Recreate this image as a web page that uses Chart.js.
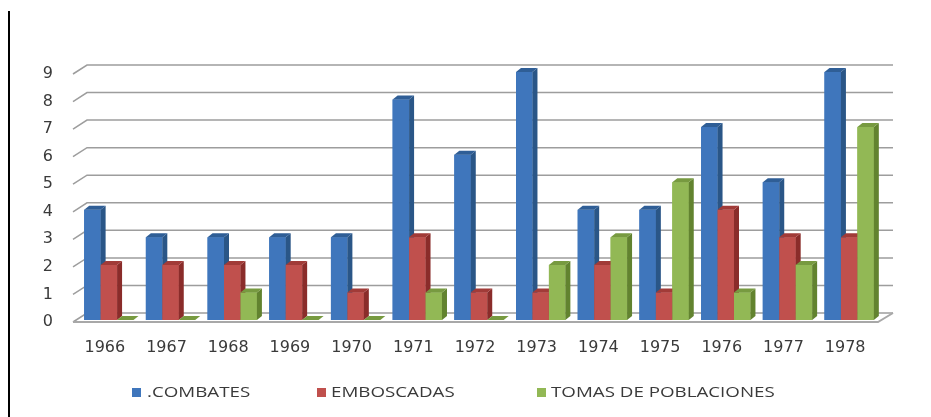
<!DOCTYPE html>
<html><head><meta charset="utf-8">
<script src="https://cdn.jsdelivr.net/npm/chart.js@4.4.0/dist/chart.umd.min.js"></script>
<style>html,body{margin:0;padding:0;background:#fff;overflow:hidden}canvas{display:block}</style>
</head><body>
<canvas id="c" width="931" height="417"></canvas>
<script>
// ---- data ----
const categories = ['1966','1967','1968','1969','1970','1971','1972','1973','1974','1975','1976','1977','1978'];
const combates   = [4, 3, 3, 3, 3, 8, 6, 9, 4, 4, 7, 5, 9];
const emboscadas = [2, 2, 2, 2, 1, 3, 1, 1, 2, 1, 4, 3, 3];
const tomas      = [0, 0, 1, 0, 0, 1, 0, 2, 3, 5, 1, 2, 7];
const seriesNames = ['.COMBATES', 'EMBOSCADAS', 'TOMAS DE POBLACIONES'];
const yMin = 0, yMax = 9, yStep = 1;

// ---- styles ----
const FRONT = ['#3F76BC', '#C0504D', '#92B855'];
const SIDE  = ['#2A5687', '#8A2C2A', '#62832F'];
const TOP   = ['#2F5E96', '#A13B38', '#779A40'];
const DX = 5, DY = -4;
const GRID = '#9d9d9d';
const TEXT = '#3a3a3a';

const wallPlugin = {
  id: 'wall',
  beforeDatasetsDraw(chart) {
    const ctx = chart.ctx, ys = chart.scales.y, a = chart.chartArea;
    ctx.save();
    ctx.strokeStyle = GRID;
    ctx.lineWidth = 1.5;
    for (let v = yMin; v <= yMax; v += yStep) {
      const y = ys.getPixelForValue(v);
      ctx.beginPath();
      ctx.moveTo(a.left - 5, y + 2);
      ctx.lineTo(a.left + 9, y - 7);
      ctx.lineTo(a.right + 13, y - 7);
      ctx.stroke();
    }
    const y0 = ys.getPixelForValue(0);
    ctx.lineWidth = 2;
    ctx.strokeStyle = '#a8a8a8';
    ctx.beginPath();
    ctx.moveTo(a.left - 5, y0 + 2);
    ctx.lineTo(a.right - 2, y0 + 2);
    ctx.lineTo(a.right + 13, y0 - 7);
    ctx.stroke();
    ctx.restore();
  }
};

// repaint bars as 3D prisms, series in order so later series cover earlier side faces
const bars3dPlugin = {
  id: 'bars3d',
  afterDatasetsDraw(chart) {
    const ctx = chart.ctx;
    ctx.save();
    chart.data.datasets.forEach((ds, i) => {
      const meta = chart.getDatasetMeta(i);
      if (meta.hidden) return;
      meta.data.forEach(el => {
        const p = el.getProps(['x', 'y', 'base', 'width'], true);
        const x0 = p.x - p.width / 2, x1 = p.x + p.width / 2;
        const yt = p.y, yb = p.base;
        if (yb - yt > 0.5) {
          ctx.fillStyle = FRONT[i];
          ctx.fillRect(x0, yt, x1 - x0, yb - yt);
          ctx.fillStyle = SIDE[i];
          ctx.beginPath();
          ctx.moveTo(x1, yt); ctx.lineTo(x1 + DX, yt + DY);
          ctx.lineTo(x1 + DX, yb + DY); ctx.lineTo(x1, yb);
          ctx.closePath(); ctx.fill();
        }
        ctx.fillStyle = TOP[i];
        ctx.beginPath();
        ctx.moveTo(x0, yt); ctx.lineTo(x0 + DX, yt + DY);
        ctx.lineTo(x1 + DX, yt + DY); ctx.lineTo(x1, yt);
        ctx.closePath(); ctx.fill();
      });
    });
    ctx.restore();
  }
};

const legendPlugin = {
  id: 'customLegend',
  afterDraw(chart) {
    const ctx = chart.ctx;
    ctx.save();
    ctx.fillStyle = '#000';
    ctx.fillRect(8, 11, 2, 406);
    const items = [
      { sq: 132, tx: 147 },
      { sq: 317, tx: 331 },
      { sq: 537, tx: 551 }
    ];
    ctx.font = '15px "Open Sans"';
    ctx.textBaseline = 'middle';
    items.forEach((it, i) => {
      ctx.fillStyle = FRONT[i];
      ctx.fillRect(it.sq, 388, 9, 9);
      ctx.fillStyle = TEXT;
      ctx.save();
      ctx.translate(it.tx, 393);
      ctx.scale(1.25, 1);
      ctx.fillText(seriesNames[i], 0, 0);
      ctx.restore();
    });
    ctx.restore();
  }
};

const data = {
  labels: categories,
  datasets: [
    { label: seriesNames[0], data: combates,   backgroundColor: FRONT[0] },
    { label: seriesNames[1], data: emboscadas, backgroundColor: FRONT[1] },
    { label: seriesNames[2], data: tomas,      backgroundColor: FRONT[2] }
  ]
};

new Chart(document.getElementById('c'), {
  type: 'bar',
  data,
  options: {
    responsive: false,
    animation: false,
    devicePixelRatio: 1,
    datasets: { bar: { categoryPercentage: 0.8, barPercentage: 1.0, borderWidth: 0 } },
    layout: { padding: { left: 0, top: 72, right: 51, bottom: 52 } },
    plugins: { legend: { display: false }, tooltip: { enabled: false } },
    scales: {
      x: {
        grid: { display: false, drawTicks: false },
        border: { display: false },
        ticks: { font: { family: 'DejaVu Sans', size: 16 }, color: TEXT, padding: 18, labelOffset: -4, maxRotation: 0 },
        afterFit(s) { s.height = 45; }
      },
      y: {
        min: yMin, max: yMax,
        grid: { display: false, drawTicks: false },
        border: { display: false },
        ticks: { stepSize: yStep, font: { family: 'DejaVu Sans', size: 16 }, color: TEXT, padding: 25, labelOffset: 2 },
        afterFit(s) { s.width = 78; }
      }
    }
  },
  plugins: [wallPlugin, bars3dPlugin, legendPlugin]
});
</script>
</body></html>
